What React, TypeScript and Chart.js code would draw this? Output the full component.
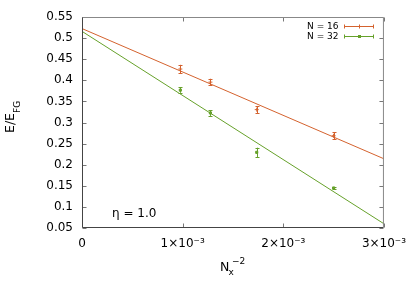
import { useEffect, useRef } from 'react';
import { Chart, registerables } from 'chart.js';

Chart.register(...registerables);

// Data (x = Nx^-2)
const xValues = [0.000977, 0.001276, 0.001736, 0.0025];
const seriesLabels = ['N = 16', 'N = 32'];
const e16 = [0.4267, 0.3957, 0.3305, 0.2686];
const err16 = [0.0100, 0.0080, 0.0087, 0.0087];
const e32 = [0.3767, 0.3226, 0.2293, 0.1448];
const err32 = [0.0063, 0.0070, 0.0110, 0.0025];
const fitX = [0, 0.003];
const fit16 = [0.5226, 0.214];
const fit32 = [0.516, 0.060];
const annotationText = 'η = 1.0';

const ORANGE = '#d4622e';
const GREEN = '#66a12a';
const FONT = '"DejaVu Sans", sans-serif';

const errorBars = {
  id: 'errorBars',
  afterDatasetsDraw(chart: any) {
    const { ctx, scales } = chart;
    chart.data.datasets.forEach((ds: any, i: number) => {
      if (!ds.errors) return;
      const meta = chart.getDatasetMeta(i);
      if (meta.hidden) return;
      ctx.save();
      ctx.strokeStyle = ds.borderColor;
      ctx.lineWidth = 1;
      ds.data.forEach((p: any, j: number) => {
        const px = Math.round(scales.x.getPixelForValue(p.x)) + 0.5;
        const y1 = scales.y.getPixelForValue(p.y + ds.errors[j]);
        const y2 = scales.y.getPixelForValue(p.y - ds.errors[j]);
        ctx.beginPath();
        ctx.moveTo(px, y1);
        ctx.lineTo(px, y2);
        ctx.moveTo(px - 2, Math.round(y1) + 0.5);
        ctx.lineTo(px + 2, Math.round(y1) + 0.5);
        ctx.moveTo(px - 2, Math.round(y2) + 0.5);
        ctx.lineTo(px + 2, Math.round(y2) + 0.5);
        ctx.stroke();
      });
      ctx.restore();
    });
  },
};

function drawRich(ctx: any, parts: { t: string; size: number; dy: number; dx?: number }[], x: number, y: number) {
  let cx = x;
  parts.forEach((p) => {
    ctx.font = `${p.size}px ${FONT}`;
    cx += p.dx || 0;
    ctx.fillText(p.t, cx, y + p.dy);
    cx += ctx.measureText(p.t).width;
  });
}

const frame = {
  id: 'frame',
  afterDraw(chart: any) {
    const { ctx, chartArea: a, scales } = chart;
    const xs = scales.x;
    const ys = scales.y;
    const L = a.left + 0.5;
    const R = a.right - 0.5;
    const T = a.top + 0.5;
    const B = a.bottom - 0.5;
    ctx.save();
    ctx.lineWidth = 1;
    ctx.strokeStyle = '#777';
    ctx.beginPath();
    ys.ticks.forEach((t: any) => {
      const y = Math.round(ys.getPixelForValue(t.value)) + 0.5;
      ctx.moveTo(L, y);
      ctx.lineTo(L + 4, y);
      ctx.moveTo(R - 4, y);
      ctx.lineTo(R, y);
    });
    xs.ticks.forEach((t: any) => {
      const x = Math.round(xs.getPixelForValue(t.value)) + 0.5;
      ctx.moveTo(x, B);
      ctx.lineTo(x, B - 4);
      ctx.moveTo(x, T);
      ctx.lineTo(x, T + 4);
    });
    ctx.stroke();
    // top/right border
    ctx.strokeStyle = '#888';
    ctx.beginPath();
    ctx.moveTo(L, T);
    ctx.lineTo(R, T);
    ctx.lineTo(R, B);
    ctx.stroke();
    // left/bottom border
    ctx.strokeStyle = '#444';
    ctx.beginPath();
    ctx.moveTo(L, T);
    ctx.lineTo(L, B);
    ctx.lineTo(R, B);
    ctx.stroke();

    // texts
    ctx.fillStyle = '#000';
    ctx.textBaseline = 'alphabetic';
    ctx.textAlign = 'left';
    // annotation
    ctx.font = `12px ${FONT}`;
    ctx.fillText(annotationText, 112, 216.5);
    // x title
    drawRich(ctx, [{ t: 'N', size: 12.5, dy: 0 }], 220, 270.5);
    drawRich(ctx, [{ t: 'x', size: 9, dy: 0 }], 228.5, 275);
    drawRich(ctx, [{ t: '−2', size: 9, dy: 0 }], 232, 264);
    // y title (rotated)
    ctx.save();
    ctx.translate(14, 133);
    ctx.rotate(-Math.PI / 2);
    drawRich(ctx, [{ t: 'E/E', size: 12.5, dy: 0 }, { t: 'FG', size: 9, dy: 6 }], 0, 0);
    ctx.restore();

    // legend
    const rows = [
      { label: chart.data.datasets[2].label, color: ORANGE, y: 26.5, style: 'cross' },
      { label: chart.data.datasets[3].label, color: GREEN, y: 36.5, style: 'rect' },
    ];
    rows.forEach((r) => {
      ctx.font = `9px ${FONT}`;
      ctx.textAlign = 'right';
      ctx.textBaseline = 'middle';
      ctx.fillStyle = '#000';
      ctx.fillText(r.label, 338.5, r.y + 0.5);
      ctx.strokeStyle = r.color;
      ctx.fillStyle = r.color;
      ctx.beginPath();
      ctx.moveTo(344, r.y);
      ctx.lineTo(373.5, r.y);
      ctx.moveTo(344.5, r.y - 2);
      ctx.lineTo(344.5, r.y + 2);
      ctx.moveTo(373.5, r.y - 2);
      ctx.lineTo(373.5, r.y + 2);
      if (r.style === 'cross') {
        ctx.moveTo(359.5, r.y - 2);
        ctx.lineTo(359.5, r.y + 2);
      }
      ctx.stroke();
      if (r.style === 'rect') ctx.fillRect(358, r.y - 1.5, 3, 3);
    });
    ctx.restore();
  },
};

export default function App() {
  const ref = useRef<HTMLCanvasElement | null>(null);

  useEffect(() => {
    document.body.style.margin = '0';
    const canvas = ref.current;
    if (!canvas) return;
    const chart = new Chart(canvas, {
      type: 'scatter',
      data: {
        datasets: [
          {
            label: 'fit16',
            data: fitX.map((x, i) => ({ x, y: fit16[i] })),
            showLine: true,
            borderColor: ORANGE,
            borderWidth: 1,
            pointRadius: 0,
          },
          {
            label: 'fit32',
            data: fitX.map((x, i) => ({ x, y: fit32[i] })),
            showLine: true,
            borderColor: GREEN,
            borderWidth: 1,
            pointRadius: 0,
          },
          {
            label: seriesLabels[0],
            data: xValues.map((x, i) => ({ x, y: e16[i] })),
            errors: err16,
            borderColor: ORANGE,
            backgroundColor: ORANGE,
            pointStyle: 'cross',
            pointRadius: 2,
            borderWidth: 1,
          } as any,
          {
            label: seriesLabels[1],
            data: xValues.map((x, i) => ({ x, y: e32[i] })),
            errors: err32,
            borderColor: GREEN,
            backgroundColor: GREEN,
            pointStyle: 'rect',
            pointRadius: 1.5,
            borderWidth: 1,
          } as any,
        ],
      },
      options: {
        animation: false,
        responsive: false,
        devicePixelRatio: 1,
        layout: { padding: { top: 17, right: 27, left: 0, bottom: 0 } },
        plugins: { legend: { display: false }, tooltip: { enabled: false } },
        scales: {
          x: {
            type: 'linear',
            min: 0,
            max: 0.003,
            grid: { display: false, drawTicks: false },
            border: { display: false },
            ticks: {
              stepSize: 0.001,
              autoSkip: false,
              maxRotation: 0,
              padding: 9,
              color: '#000',
              font: { family: FONT, size: 12 },
              callback: (v: any) => {
                const n = Math.round(Number(v) * 1000);
                return n === 0 ? '0' : `${n}×10⁻³`;
              },
            },
            afterFit: (s: any) => {
              s.height = 63;
            },
          },
          y: {
            type: 'linear',
            min: 0.05,
            max: 0.55,
            grid: { display: false, drawTicks: false },
            border: { display: false },
            ticks: {
              stepSize: 0.05,
              padding: 9,
              color: '#000',
              font: { family: FONT, size: 12 },
              callback: (v: any) => String(parseFloat(Number(v).toFixed(2))),
            },
            afterFit: (s: any) => {
              s.width = 82;
            },
          },
        },
      },
      plugins: [errorBars, frame],
    });
    return () => chart.destroy();
  }, []);

  return <canvas ref={ref} width={415} height={291} />;
}
